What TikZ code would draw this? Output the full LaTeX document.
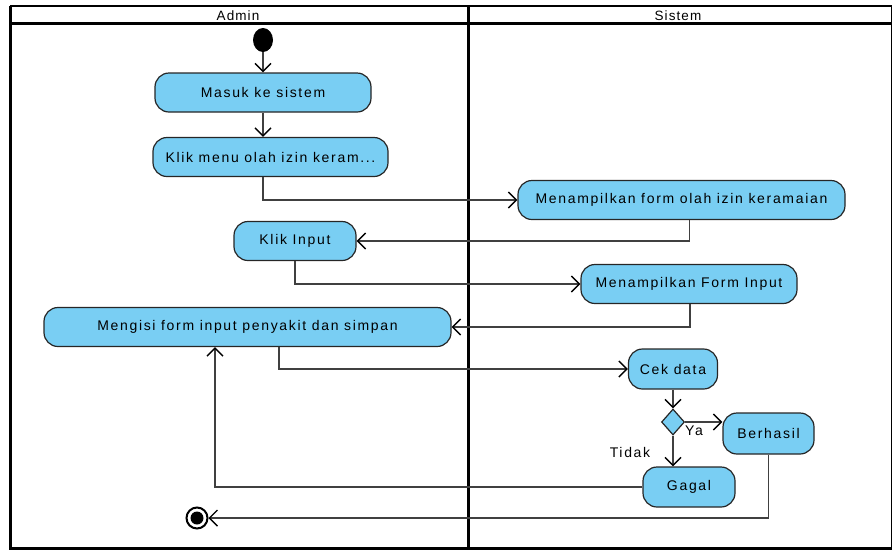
\documentclass[tikz,border=0pt]{standalone}
\usepackage{fontspec}
\setmainfont{Liberation Sans}[LetterSpace=12]
\newfontfamily\hdrfont{Liberation Sans}[LetterSpace=8]
\usetikzlibrary{arrows.meta,shapes.geometric,calc}
\definecolor{actfill}{HTML}{79CEF3}
\definecolor{conn}{HTML}{404040}
\begin{document}
\begin{tikzpicture}[x=1pt,y=-1pt,
  act/.style={draw=black!85,line width=1.2pt,fill=actfill,rounded corners=14pt,
    minimum height=39pt,inner sep=0pt,font=\fontsize{14}{16}\selectfont},
  flow/.style={draw=conn,line width=1.3pt,-{Straight Barb[length=8pt,width=16pt,line width=1.4pt,color=black]}},
  lbl/.style={font=\fontsize{14}{16}\selectfont,inner sep=0pt},
  hdr/.style={font=\hdrfont\fontsize{13.5}{14}\selectfont,inner sep=0pt},
  frameline/.style={line width=3pt,black}]
\useasboundingbox (0,0) rectangle (892,550);
% swimlanes
\draw[frameline] (10,6) -- (10,548) -- (892,548);
\draw[frameline] (892,6) -- (892,548);
\draw[line width=2.2pt] (10,6) -- (892,6);
\draw[frameline] (10,23.5) -- (892,23.5);
\draw[frameline] (468,6) -- (468,548);
\node[hdr] (hadmin) at (238,15.5) {Admin};
\node[hdr] (hsistem) at (678,15.5) {Sistem};
% nodes
\node[ellipse,fill=black,minimum width=20pt,minimum height=24pt,inner sep=0pt] (start) at (263,40) {};
\node[act,minimum width=216pt] (masuk) at (263,92.5) {Masuk ke sistem};
\node[act,minimum width=235pt] (menu) at (270.5,157) {Klik menu olah izin keram...};
\node[act,minimum width=327pt] (tform) at (681.5,200) {Menampilkan form olah izin keramaian};
\node[act,minimum width=122pt] (input) at (295,241) {Klik Input};
\node[act,minimum width=216pt] (finput) at (689,284) {Menampilkan Form Input};
\node[act,minimum width=407pt] (isi) at (247.5,327) {Mengisi form input penyakit dan simpan};
\node[act,minimum width=89pt,minimum height=40pt] (cek) at (673,369) {Cek data};
\node[diamond,draw=black!85,line width=1.2pt,fill=actfill,minimum width=23pt,minimum height=26pt,inner sep=0pt] (dec) at (673,422) {};
\node[act,minimum width=91pt,minimum height=41pt] (ok) at (768.5,433.5) {Berhasil};
\node[act,minimum width=92pt,minimum height=40pt] (gagal) at (689,487) {Gagal};
\node[circle,draw=black,line width=2pt,minimum size=21pt,inner sep=0pt] (end) at (197,518) {};
\node[circle,fill=black,minimum size=13pt,inner sep=0pt] (endin) at (end) {};
\node[lbl,anchor=west] (ya) at (685,431) {Ya};
\node[lbl] (tidak) at (630,452) {Tidak};
% connectors
\draw[flow] (start) -- (masuk);
\draw[flow] (masuk.south) -- (masuk.south |- menu.north);
\draw[flow] (menu.south -| start) |- (tform.west);
\draw[flow] ([xshift=8pt]tform.south) |- (input.east);
\draw[flow] (input.south) |- (finput.west);
\draw[flow] ([xshift=1pt]finput.south) |- (isi.east);
\draw[flow] ([xshift=31.5pt]isi.south) |- (cek.west);
\draw[flow] (cek) -- (dec);
\draw[flow] (dec.east) -- (dec.east -| ok.west);
\draw[flow] (dec.south) -- (dec.south |- gagal.north);
\draw[flow] (gagal.west) -| ([xshift=-32.5pt]isi.south);
\draw[flow] (ok.south) |- (end.east);
\end{tikzpicture}
\end{document}
